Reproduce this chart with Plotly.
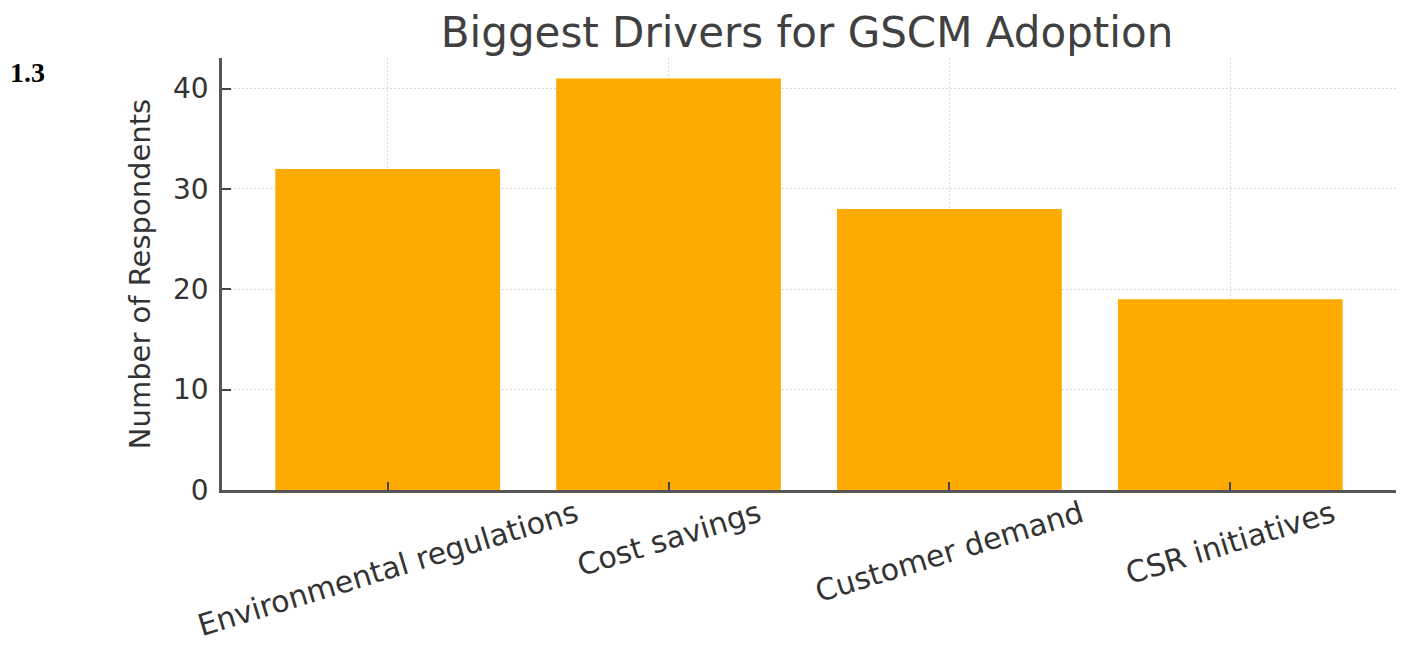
import plotly.graph_objects as go

categories = ["Environmental regulations", "Cost savings", "Customer demand", "CSR initiatives"]
respondents = [32, 41, 28, 19]
y_ticks = [0, 10, 20, 30, 40]

title_text = "Biggest Drivers for GSCM Adoption"
y_title = "Number of Respondents"
side_label = "1.3"

FONT = "DejaVu Sans"
TXT = "#333333"
AXIS = "#555555"
GRID = "#d9d9d9"

W, H = 1404, 652
ML, MR, MT, MB = 214, 16, 49.5, 170
PW = W - ML - MR
PH = H - MT - MB

fig = go.Figure()
fig.add_trace(go.Bar(
    x=categories, y=respondents,
    marker=dict(color="#FFAA00", line=dict(width=0)),
    width=0.8,
))

# rotated category labels centred under their ticks
for c in categories:
    fig.add_annotation(
        x=c, xref="x", y=-1.5 / PH, yref="paper",
        text=c, showarrow=False, textangle=-17,
        xanchor="center", yanchor="top",
        font=dict(family=FONT, size=30, color=TXT),
    )

# section number at the top-left
fig.add_annotation(
    x=-ML / PW, xref="paper", y=(H - MB - 64) / PH, yref="paper",
    text="<b>%s</b>" % side_label, showarrow=False,
    xanchor="left", yanchor="middle",
    font=dict(family="Liberation Serif", size=28, color="#000000"),
)

fig.update_layout(
    width=W, height=H,
    margin=dict(l=ML, r=MR, t=MT, b=MB),
    plot_bgcolor="white", paper_bgcolor="white",
    showlegend=False,
    title=dict(text=title_text, x=799 / W, xanchor="center",
               y=1 - 24 / H, yanchor="middle",
               font=dict(family=FONT, size=42, color="#404040")),
    xaxis=dict(
        range=[-0.59, 3.59], showticklabels=False,
        showline=True, linecolor=AXIS, linewidth=2.5,
        ticks="inside", ticklen=8, tickcolor="#444444", tickwidth=1.5,
        showgrid=True, gridcolor=GRID, griddash="2px,2px", gridwidth=1,
        zeroline=False,
    ),
    yaxis=dict(
        range=[0, 43.05], tickvals=y_ticks,
        showline=True, linecolor=AXIS, linewidth=2.5,
        ticks="inside", ticklen=9, tickcolor="#444444", tickwidth=1.5,
        ticklabelstandoff=5,
        showgrid=True, gridcolor=GRID, griddash="2px,2px", gridwidth=1,
        zeroline=False,
        tickfont=dict(family=FONT, size=28, color=TXT),
        title=dict(text=y_title, font=dict(family=FONT, size=29, color=TXT), standoff=14),
    ),
)

fig.write_html("out.html")
